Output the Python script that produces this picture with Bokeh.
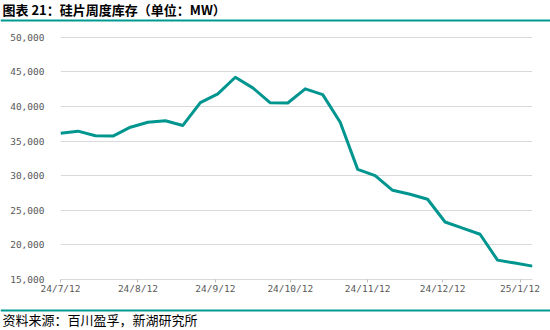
import pandas as pd
from bokeh.plotting import figure
from bokeh.layouts import column
from bokeh.models import (ColumnDataSource, Range1d, FixedTicker, NumeralTickFormatter,
                          CustomJSTickFormatter, Label, BoxAnnotation)
from bokeh.embed import file_html
from bokeh.resources import INLINE

# ---- data ----
dates = ["2024-07-12", "2024-07-19", "2024-07-26", "2024-08-02", "2024-08-09", "2024-08-16",
         "2024-08-23", "2024-08-30", "2024-09-06", "2024-09-13", "2024-09-20", "2024-09-27",
         "2024-10-04", "2024-10-11", "2024-10-18", "2024-10-25", "2024-11-01", "2024-11-08",
         "2024-11-15", "2024-11-22", "2024-11-29", "2024-12-06", "2024-12-13", "2024-12-20",
         "2024-12-27", "2025-01-03", "2025-01-10", "2025-01-17"]
inventory_mw = [36140, 36430, 35760, 35710, 37000, 37720, 37930, 37250, 40560, 41820,
                44210, 42680, 40520, 40500, 42540, 41710, 37720, 30910, 30000, 27880,
                27310, 26590, 23310, 22410, 21540, 17800, 17370, 16930]
x_tick_dates = ["2024-07-12", "2024-08-12", "2024-09-12", "2024-10-12",
                "2024-11-12", "2024-12-12", "2025-01-12"]
y_ticks = [15000, 20000, 25000, 30000, 35000, 40000, 45000, 50000]
title_text = "图表 21：硅片周度库存（单位：MW）"
source_text = "资料来源：百川盈孚，新湖研究所"

TEAL = "#009A93"
W = 550


def banner(height, text, bold, text_y, rule_bottom):
    f = figure(width=W, height=height, output_backend="svg", toolbar_location=None,
               x_range=Range1d(0, W), y_range=Range1d(0, height),
               min_border=0, min_border_left=0, min_border_right=0,
               min_border_top=0, min_border_bottom=0, frame_align=False)
    f.axis.visible = False
    f.grid.visible = False
    f.outline_line_color = None
    f.background_fill_color = "white"
    f.border_fill_color = "white"
    f.add_layout(Label(x=2, y=text_y, x_units="screen", y_units="screen", text=text,
                       text_font="Noto Sans CJK SC",
                       text_font_style="bold" if bold else "normal",
                       text_font_size="13px", text_color="#000000",
                       text_baseline="middle"))
    f.add_layout(BoxAnnotation(left=0, right=W, bottom=rule_bottom, top=rule_bottom + 2,
                               left_units="screen", right_units="screen",
                               bottom_units="screen", top_units="screen",
                               fill_color=TEAL, fill_alpha=1, line_color=None))
    return f


header = banner(22, title_text, True, 13, 1)

x = pd.to_datetime(dates)
src = ColumnDataSource(dict(x=x, y=inventory_mw))

p = figure(width=W, height=286, output_backend="svg", toolbar_location=None,
           x_axis_type="datetime", frame_align=False,
           x_range=Range1d(x[0], x[-1]), y_range=Range1d(y_ticks[0], y_ticks[-1] + 100),
           min_border_left=60, min_border_right=18, min_border_top=14, min_border_bottom=29)
p.outline_line_color = None
p.background_fill_color = "white"
p.border_fill_color = "white"

p.line("x", "y", source=src, line_color="#00968F", line_width=3, line_join="round")

# y axis
p.yaxis.ticker = FixedTicker(ticks=y_ticks)
p.yaxis.formatter = NumeralTickFormatter(format="0,0")
p.yaxis.axis_line_color = None
p.yaxis.major_tick_line_color = None
p.yaxis.minor_tick_line_color = None
p.yaxis.major_label_standoff = 10
p.yaxis.major_label_text_font = "DejaVu Sans Mono"
p.yaxis.major_label_text_font_size = "9.5px"
p.yaxis.major_label_text_color = "#595959"

# x axis
tick_ms = [pd.Timestamp(d).value / 1e6 for d in x_tick_dates]
p.xaxis.ticker = FixedTicker(ticks=tick_ms)
p.xaxis.formatter = CustomJSTickFormatter(code="""
const d = new Date(tick);
return (d.getUTCFullYear() % 100) + "/" + (d.getUTCMonth() + 1) + "/" + d.getUTCDate();
""")
p.xaxis.axis_line_color = "#D9D9D9"
p.xaxis.major_tick_line_color = "#BFBFBF"
p.xaxis.major_tick_in = 0
p.xaxis.major_tick_out = 3
p.xaxis.minor_tick_line_color = None
p.xaxis.major_label_standoff = 0
p.xaxis.major_label_text_font = "DejaVu Sans Mono"
p.xaxis.major_label_text_font_size = "9.5px"
p.xaxis.major_label_text_color = "#595959"

p.xgrid.grid_line_color = None
p.ygrid.ticker = FixedTicker(ticks=y_ticks)
p.ygrid.grid_line_color = "#D9D9D9"
p.ygrid.grid_line_width = 1

footer = banner(22, source_text, False, 11, 19)

layout = column(header, p, footer, spacing=0)
open("out.html", "w").write(file_html(layout, INLINE))
